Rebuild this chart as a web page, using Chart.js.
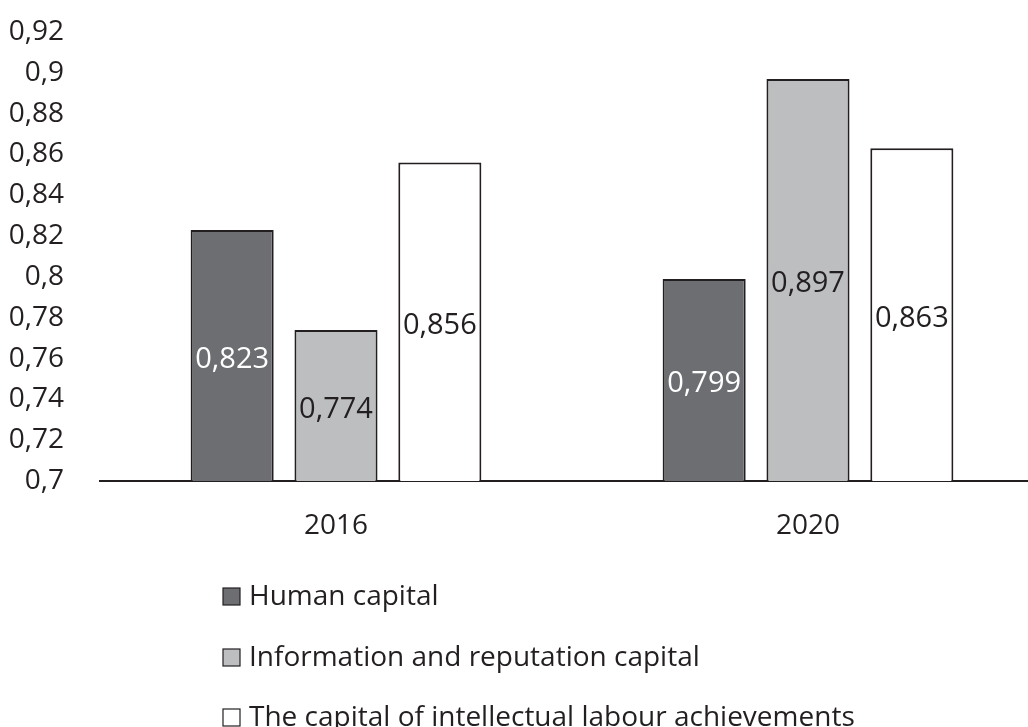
<!DOCTYPE html>
<html>
<head>
<meta charset="utf-8">
<script src="https://cdn.jsdelivr.net/npm/chart.js@4"></script>
<style>
    html, body { margin: 0; padding: 0; background: #fff; overflow: hidden; }
    #wrap { width: 1044px; height: 727px; }
</style>
</head>
<body>
<div id="wrap"><canvas id="chart" width="1044" height="727"></canvas></div>
<script>
// Data
const years = ["2016", "2020"];
const seriesNames = [
    "Human capital",
    "Information and reputation capital",
    "The capital of intellectual labour achievements"
];
const humanCapital = [0.823, 0.799];
const infoReputation = [0.774, 0.897];
const intellectualLabour = [0.856, 0.863];
const yTicks = [0.7, 0.72, 0.74, 0.76, 0.78, 0.8, 0.82, 0.84, 0.86, 0.88, 0.9, 0.92];

const FONT = "'Open Sans', 'Noto Sans', sans-serif";
const SIZE = 28;
const INK = "#231f20";
const fills = ["#6d6e71", "#bcbec0", "#ffffff"];
const labelColors = ["#ffffff", INK, INK];

const fmt = v => String(v).replace(".", ",");

// value labels in the middle of every bar + vertical legend below the axis
const extras = {
    id: "extras",
    afterDraw(chart) {
        const ctx = chart.ctx;
        const yScale = chart.scales.y;
        ctx.save();
        ctx.font = `29px ${FONT}`;
        ctx.textAlign = "center";
        ctx.textBaseline = "middle";
        chart.data.datasets.forEach((ds, i) => {
            const meta = chart.getDatasetMeta(i);
            ds.data.forEach((v, j) => {
                const bar = meta.data[j];
                const top = yScale.getPixelForValue(v);
                const mid = (top + yScale.bottom) / 2 + 4;
                ctx.fillStyle = labelColors[i];
                ctx.fillText(fmt(v), bar.x, mid);
            });
        });

        const rows = [597, 658, 718];
        ctx.font = `${SIZE}px ${FONT}`;
        ctx.textAlign = "left";
        seriesNames.forEach((name, i) => {
            ctx.fillStyle = fills[i];
            ctx.fillRect(223, rows[i] - 9, 17, 17);
            ctx.strokeStyle = INK;
            ctx.lineWidth = 1.2;
            ctx.strokeRect(223, rows[i] - 9, 17, 17);
            ctx.fillStyle = INK;
            ctx.fillText(name, 249, rows[i]);
        });
        ctx.restore();
    }
};

const datasets = [humanCapital, infoReputation, intellectualLabour].map((data, i) => ({
    label: seriesNames[i],
    data: data,
    backgroundColor: fills[i],
    borderColor: INK,
    borderWidth: 2,
    categoryPercentage: 0.66,
    barPercentage: 0.8
}));

new Chart(document.getElementById("chart"), {
    type: "bar",
    data: { labels: years, datasets: datasets },
    plugins: [extras],
    options: {
        responsive: false,
        animation: false,
        layout: { padding: { top: 32, right: 0, bottom: 0, left: 0 } },
        plugins: {
            legend: { display: false },
            tooltip: { enabled: false }
        },
        scales: {
            x: {
                grid: { display: false },
                border: { display: true, color: INK, width: 2 },
                ticks: { color: INK, font: { family: FONT, size: SIZE }, padding: 20 },
                afterFit: s => { s.height = 246; }
            },
            y: {
                min: 0.7,
                max: 0.92,
                grid: { display: false },
                border: { display: false },
                afterBuildTicks: s => { s.ticks = yTicks.map(v => ({ value: v })); },
                ticks: {
                    color: INK,
                    font: { family: FONT, size: SIZE },
                    padding: 28,
                    callback: v => fmt(Math.round(v * 100) / 100)
                },
                afterFit: s => { s.width = 100; s.paddingTop = 0; s.paddingBottom = 0; }
            }
        }
    }
});
</script>
</body>
</html>
